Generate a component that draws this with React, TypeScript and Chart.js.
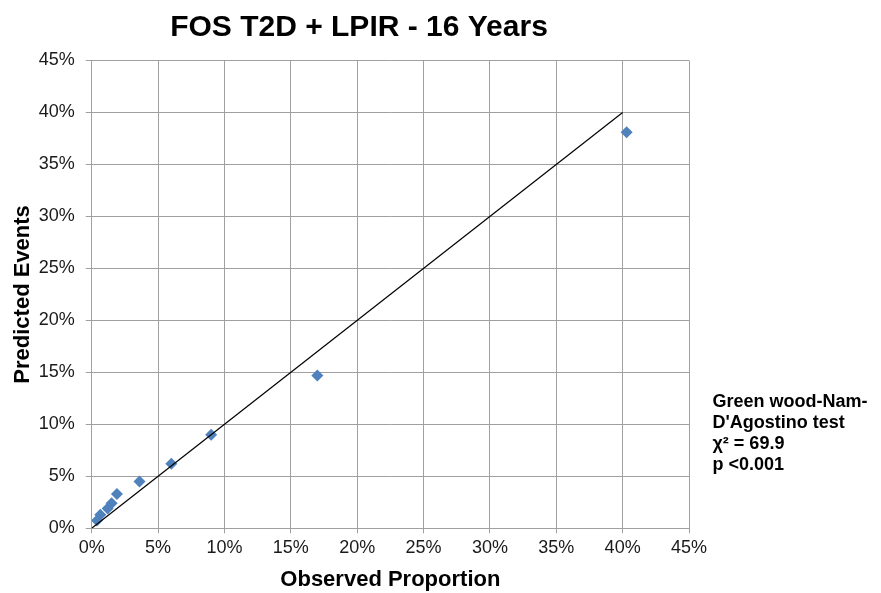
import { useEffect, useRef } from 'react';
import { Chart, registerables } from 'chart.js';

Chart.register(...registerables);

// Calibration: observed proportion vs. predicted events (percent)
const observed = [0.4, 0.65, 1.2, 1.5, 1.9, 3.6, 6.0, 9.0, 17.0, 40.3];
const predicted = [0.75, 1.3, 1.9, 2.4, 3.3, 4.5, 6.2, 9.0, 14.7, 38.1];

// Line of perfect calibration
const refLineX = [0, 40];
const refLineY = [0, 40];

const axisMin = 0;
const axisMax = 45;
const axisStep = 5;

const chartTitle = 'FOS T2D + LPIR - 16 Years';
const xAxisTitle = 'Observed Proportion';
const yAxisTitle = 'Predicted Events';
const testLines = ['Green wood-Nam-', "D'Agostino test", 'χ² = 69.9', 'p <0.001'];

const FONT = '"Liberation Sans", Arial, Helvetica, sans-serif';
const GRID = '#a0a0a0';
const MARKER = '#4f81bd';

const textBlocks = {
  id: 'textBlocks',
  afterDraw(chart: Chart) {
    const ctx = chart.ctx;
    ctx.save();
    ctx.fillStyle = '#000';
    ctx.textBaseline = 'alphabetic';

    ctx.font = `bold 30px ${FONT}`;
    ctx.textAlign = 'center';
    ctx.fillText(chartTitle, 359, 35.5);

    ctx.font = `bold 18px ${FONT}`;
    ctx.textAlign = 'left';
    testLines.forEach((line, i) => {
      ctx.fillText(line, 712.5, 406.5 + i * 21);
    });
    ctx.restore();
  },
};

export default function App() {
  const canvasRef = useRef<HTMLCanvasElement | null>(null);

  useEffect(() => {
    const canvas = canvasRef.current;
    if (!canvas) return;

    const points = observed.map((x, i) => ({ x, y: predicted[i] }));
    const refLine = refLineX.map((x, i) => ({ x, y: refLineY[i] }));

    const tickFont = { family: FONT, size: 18 };
    const titleFont = { family: FONT, size: 22, weight: 'bold' as const };

    const chart = new Chart(canvas, {
      type: 'scatter',
      data: {
        datasets: [
          {
            type: 'line',
            data: refLine,
            borderColor: '#000',
            borderWidth: 1.2,
            pointRadius: 0,
            fill: false,
            order: 0,
          },
          {
            type: 'scatter',
            data: points,
            pointStyle: 'rectRot',
            pointRadius: 6,
            backgroundColor: MARKER,
            borderColor: MARKER,
            borderWidth: 0,
            order: 1,
          },
        ],
      },
      options: {
        animation: false,
        responsive: false,
        layout: { padding: { top: 60.5, right: 192, left: 0, bottom: 0 } },
        plugins: {
          legend: { display: false },
          tooltip: { enabled: false },
          title: { display: false },
        },
        scales: {
          x: {
            type: 'linear',
            min: axisMin,
            max: axisMax,
            ticks: {
              stepSize: axisStep,
              callback: (v: any) => `${v}%`,
              font: tickFont,
              color: '#1a1a1a',
              padding: 4,
              maxRotation: 0,
            },
            grid: { color: GRID, lineWidth: 1, tickLength: 5 },
            border: { color: GRID, width: 1 },
            title: {
              display: true,
              text: xAxisTitle,
              font: titleFont,
              color: '#000',
              padding: 0,
            },
            afterFit: (s: any) => {
              s.height = 64.7;
            },
          },
          y: {
            type: 'linear',
            min: axisMin,
            max: axisMax,
            ticks: {
              stepSize: axisStep,
              callback: (v: any) => `${v}%`,
              font: tickFont,
              color: '#1a1a1a',
              padding: 11,
            },
            grid: { color: GRID, lineWidth: 1, tickLength: 6 },
            border: { color: GRID, width: 1 },
            title: {
              display: true,
              text: yAxisTitle,
              font: titleFont,
              color: '#000',
              padding: { top: 10, bottom: 0 },
            },
            afterFit: (s: any) => {
              s.width = 91.7;
            },
          },
        },
      },
      plugins: [textBlocks],
    });

    return () => chart.destroy();
  }, []);

  return (
    <div style={{ position: 'fixed', left: 0, top: 0, width: 881, height: 593, background: '#fff' }}>
      <canvas ref={canvasRef} width={881} height={593} style={{ display: 'block' }} />
    </div>
  );
}
